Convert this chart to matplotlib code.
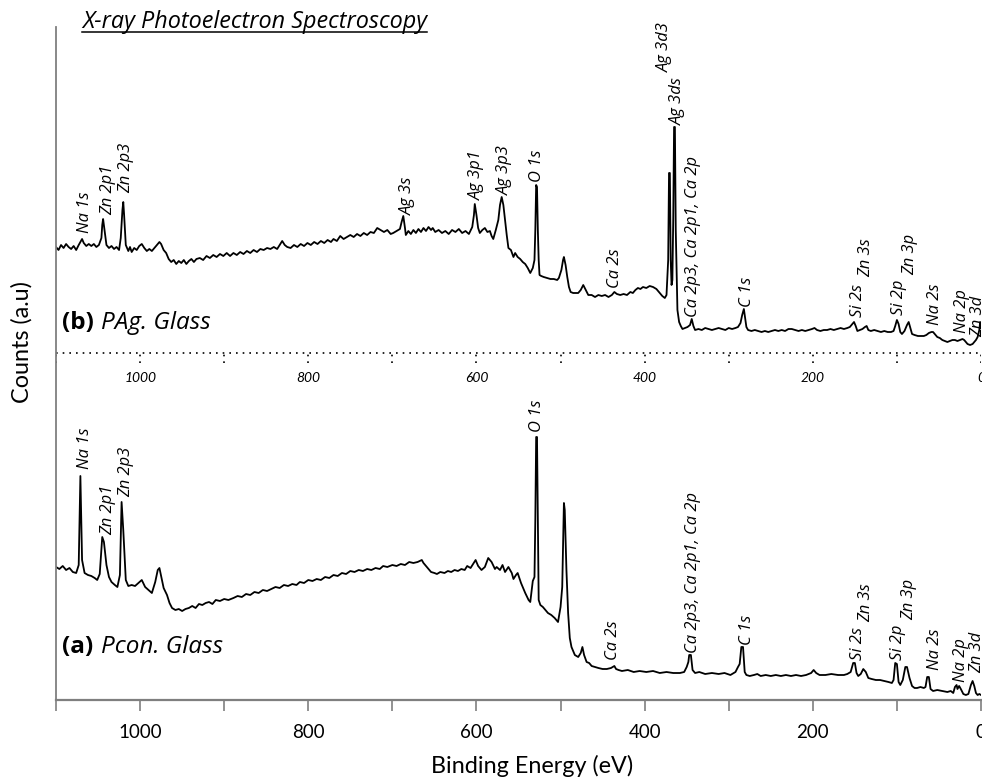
import matplotlib
matplotlib.use("Agg")
import matplotlib.pyplot as plt
from matplotlib.lines import Line2D

plt.rcParams['font.family'] = ['Lato', 'DejaVu Sans']
LABEL_FONT = ['Open Sans', 'DejaVu Sans']

# Spectrum (a) Pcon. Glass : (binding energy eV, counts a.u.)
pcon_points = [
    (1100, 133), (1096, 131), (1092, 134), (1088, 130), (1084, 132), (1080, 128), (1076, 127),
    (1073, 135), (1071, 224), (1069, 140), (1066, 127), (1062, 125), (1058, 124), (1054, 122),
    (1051, 120), (1048, 126), (1045, 163), (1043, 158), (1040, 135), (1037, 123), (1034, 118),
    (1030, 115), (1027, 113), (1024, 125), (1022, 198), (1020, 170), (1017, 120), (1014, 114),
    (1010, 115), (1006, 114), (1002, 117), (998, 120), (994, 113), (990, 110), (986, 107),
    (982, 118), (979, 130), (977, 132), (975, 124), (972, 112), (968, 105), (965, 97), (962, 92),
    (958, 90), (954, 91), (950, 89), (946, 91), (942, 92), (938, 94), (934, 92), (930, 96),
    (926, 95), (922, 97), (918, 98), (914, 96), (910, 100), (905, 99), (900, 101), (895, 100),
    (889, 102), (884, 104), (879, 103), (874, 106), (869, 105), (864, 108), (859, 107),
    (854, 110), (849, 109), (844, 111), (839, 113), (834, 112), (829, 115), (824, 114),
    (819, 116), (814, 115), (810, 118), (805, 117), (800, 120), (795, 119), (790, 121),
    (785, 120), (780, 123), (775, 122), (770, 125), (765, 124), (760, 127), (755, 126),
    (750, 129), (745, 128), (740, 130), (735, 129), (730, 131), (725, 130), (720, 132),
    (715, 131), (711, 134), (706, 133), (700, 135), (695, 134), (690, 136), (685, 135),
    (680, 138), (675, 137), (670, 138), (665, 140), (663, 137), (658, 132), (654, 128),
    (650, 127), (647, 126), (643, 128), (638, 127), (634, 129), (630, 128), (626, 130),
    (622, 129), (618, 131), (614, 130), (611, 134), (607, 132), (604, 136), (601, 140),
    (598, 134), (594, 130), (590, 133), (586, 142), (582, 138), (578, 131), (576, 133),
    (572, 130), (569, 135), (566, 128), (562, 133), (558, 127), (556, 121), (553, 125),
    (551, 127), (547, 117), (542, 107), (538, 100), (536, 98), (533, 119), (531, 123),
    (530, 180), (529, 263), (528, 263), (527, 180), (526, 100), (524, 95), (521, 93),
    (518, 90), (515, 87), (511, 85), (507, 82), (503, 78), (500, 93), (498, 113), (496, 197),
    (495, 190), (493, 130), (491, 87), (489, 62), (487, 53), (483, 45), (479, 43), (476, 47),
    (474, 53), (472, 45), (469, 38), (466, 37), (463, 34), (459, 33), (455, 32), (450, 31),
    (445, 31), (440, 32), (436, 34), (434, 31), (431, 30), (427, 29), (420, 30), (413, 28),
    (406, 29), (398, 28), (390, 29), (382, 27), (374, 28), (366, 27), (358, 27), (353, 28),
    (350, 33), (348, 38), (347, 45), (345, 45), (343, 30), (340, 27), (335, 28), (328, 26),
    (320, 27), (312, 26), (305, 27), (298, 25), (292, 28), (289, 33), (287, 36), (285, 53),
    (283, 53), (281, 28), (279, 25), (275, 24), (270, 25), (266, 26), (262, 24), (256, 25),
    (250, 24), (244, 25), (238, 24), (232, 25), (226, 24), (220, 25), (214, 24), (208, 25),
    (202, 27), (199, 30), (196, 27), (192, 25), (185, 25), (178, 26), (170, 25), (163, 25),
    (159, 26), (155, 28), (152, 37), (150, 37), (148, 27), (146, 24), (143, 26), (140, 31),
    (137, 28), (134, 22), (130, 21), (125, 20), (120, 20), (115, 19), (110, 18), (106, 17),
    (104, 20), (102, 37), (100, 36), (98, 18), (96, 15), (93, 20), (90, 33), (88, 33),
    (85, 22), (82, 14), (79, 12), (76, 12), (72, 13), (68, 12), (66, 13), (64, 23), (62, 23),
    (60, 11), (57, 9), (52, 10), (46, 9), (40, 8), (36, 9), (33, 7), (31, 13), (29, 15),
    (28, 11), (26, 14), (24, 11), (21, 6), (18, 5), (15, 6), (12, 15), (10, 19), (8, 14),
    (6, 7), (4, 5), (2, 6), (0, 5),
]

# Spectrum (b) PAg. Glass (already offset upwards in the original)
pag_points = [
    (1100, 453), (1097, 450), (1094, 455), (1091, 452), (1088, 456), (1085, 453), (1082, 451),
    (1079, 454), (1076, 450), (1073, 455), (1071, 458), (1069, 461), (1067, 457), (1064, 454),
    (1061, 456), (1058, 454), (1055, 456), (1052, 453), (1049, 455), (1046, 462), (1045, 475),
    (1044, 481), (1042, 468), (1040, 455), (1037, 452), (1034, 454), (1031, 451), (1028, 453),
    (1025, 450), (1023, 462), (1021, 490), (1020, 498), (1019, 485), (1017, 455), (1014, 449),
    (1012, 453), (1010, 448), (1007, 452), (1004, 450), (1001, 454), (998, 456), (995, 452),
    (992, 449), (989, 451), (986, 449), (983, 452), (980, 455), (977, 458), (975, 456),
    (972, 450), (969, 447), (966, 441), (963, 438), (960, 440), (957, 436), (954, 439),
    (951, 437), (948, 440), (945, 436), (942, 439), (939, 441), (936, 438), (933, 441),
    (929, 442), (925, 440), (921, 444), (917, 442), (913, 445), (909, 443), (905, 446),
    (901, 444), (897, 447), (893, 444), (889, 447), (885, 445), (881, 448), (877, 446),
    (873, 449), (869, 447), (865, 450), (861, 448), (857, 451), (853, 450), (849, 452),
    (845, 451), (841, 453), (837, 451), (834, 455), (831, 459), (828, 455), (825, 453),
    (821, 452), (817, 455), (813, 453), (809, 456), (805, 454), (801, 457), (797, 455),
    (793, 458), (789, 456), (785, 459), (781, 457), (777, 460), (773, 458), (770, 461),
    (766, 459), (762, 464), (758, 461), (754, 463), (750, 465), (746, 463), (742, 466),
    (738, 464), (734, 467), (730, 465), (726, 468), (722, 467), (718, 472), (714, 470),
    (710, 468), (706, 470), (702, 466), (699, 467), (695, 469), (691, 471), (689, 478),
    (687, 484), (685, 472), (684, 465), (681, 469), (678, 466), (675, 470), (672, 467),
    (669, 471), (666, 468), (663, 472), (660, 469), (657, 473), (654, 470), (652, 472),
    (649, 468), (645, 470), (641, 467), (637, 469), (633, 466), (629, 470), (625, 468),
    (621, 471), (617, 467), (613, 469), (609, 466), (605, 473), (603, 485), (602, 496),
    (600, 485), (598, 472), (596, 467), (593, 470), (590, 472), (587, 468), (584, 469),
    (582, 464), (580, 461), (577, 470), (574, 480), (572, 495), (570, 503), (568, 495),
    (566, 480), (564, 465), (562, 452), (559, 450), (556, 443), (554, 447), (551, 443),
    (548, 441), (545, 438), (542, 436), (539, 432), (536, 427), (533, 432), (531, 440),
    (530, 470), (529, 515), (528, 513), (527, 470), (526, 440), (525, 425), (523, 424),
    (520, 423), (516, 422), (512, 421), (508, 421), (504, 420), (502, 422), (499, 430),
    (497, 440), (496, 443), (494, 435), (492, 423), (490, 413), (488, 408), (485, 407),
    (482, 407), (479, 407), (476, 410), (473, 415), (470, 410), (467, 405), (463, 405),
    (459, 403), (455, 405), (451, 404), (447, 405), (443, 403), (439, 405), (436, 408),
    (433, 406), (429, 405), (425, 406), (421, 405), (417, 408), (414, 407), (411, 410),
    (408, 412), (405, 411), (402, 413), (398, 412), (394, 414), (390, 413), (386, 411),
    (382, 407), (379, 404), (376, 402), (374, 405), (372, 440), (371, 527), (370, 527),
    (369, 440), (368, 415), (367, 420), (366, 480), (365, 573), (364, 573), (363, 470),
    (361, 390), (359, 378), (357, 374), (355, 371), (352, 372), (349, 373), (346, 375),
    (344, 381), (342, 374), (340, 370), (336, 371), (332, 370), (328, 372), (324, 371),
    (320, 370), (316, 371), (312, 372), (308, 371), (304, 370), (300, 372), (296, 371),
    (292, 372), (289, 373), (286, 377), (284, 385), (282, 391), (281, 385), (279, 373),
    (277, 370), (273, 369), (269, 370), (265, 369), (261, 368), (257, 369), (253, 368),
    (249, 369), (245, 370), (241, 369), (237, 370), (233, 369), (229, 371), (225, 371),
    (221, 370), (217, 369), (213, 370), (209, 369), (205, 370), (201, 371), (198, 372),
    (195, 370), (191, 369), (187, 370), (183, 370), (179, 371), (175, 370), (171, 371),
    (167, 372), (163, 371), (159, 372), (156, 373), (153, 376), (151, 378), (149, 374),
    (147, 369), (144, 370), (141, 371), (138, 373), (136, 374), (134, 370), (131, 369),
    (127, 370), (123, 369), (119, 368), (115, 369), (111, 368), (107, 368), (104, 369),
    (102, 374), (100, 380), (98, 376), (96, 368), (94, 366), (91, 369), (88, 375), (86, 378),
    (84, 372), (82, 366), (79, 365), (75, 364), (71, 364), (68, 364), (65, 365), (62, 367),
    (59, 368), (57, 368), (55, 366), (52, 363), (49, 362), (46, 360), (43, 359), (40, 358),
    (37, 359), (34, 360), (31, 360), (28, 359), (25, 360), (22, 361), (20, 360), (18, 358),
    (16, 356), (13, 355), (10, 356), (8, 358), (6, 360), (4, 363), (2, 370), (1, 378), (0, 372),
]

# peak labels
pag_labels = ["Na 1s", "Zn 2p1", "Zn 2p3", "Ag 3s", "Ag 3p1", "Ag 3p3", "O 1s", "Ca 2s",
              "Ag 3d3", "Ag 3ds", "Ca 2p3, Ca 2p1, Ca 2p", "C 1s", "Si 2s", "Zn 3s",
              "Si 2p", "Zn 3p", "Na 2s", "Na 2p", "Zn 3d"]
pag_label_ev = [1065, 1038, 1017, 682, 600, 566, 528, 435, 376, 361, 342, 278, 146, 137,
                97, 84, 55, 23, 3]
pag_label_y = [467, 485, 507, 485, 500, 505, 518, 412, 628, 575, 383, 393, 383, 423,
               385, 425, 375, 367, 363]

pcon_labels = ["Na 1s", "Zn 2p1", "Zn 2p3", "O 1s", "Ca 2s", "Ca 2p3, Ca 2p1, Ca 2p",
               "C 1s", "Si 2s", "Zn 3s", "Si 2p", "Zn 3p", "Na 2s", "Na 2p", "Zn 3d"]
pcon_label_ev = [1065, 1038, 1017, 528, 438, 342, 278, 146, 137, 99, 86, 55, 24, 4]
pcon_label_y = [231, 165, 203, 268, 40, 47, 55, 40, 78, 40, 80, 30, 18, 27]

major_ticks = [1000, 800, 600, 400, 200, 0]
minor_ticks = [1100, 900, 700, 500, 300, 100]
separator_level = 347

fig = plt.figure(figsize=(9.82, 7.79), dpi=100)
ax = fig.add_axes([56 / 982, 79 / 779, 925 / 982, 673 / 779])

pcon_ev, pcon_counts = zip(*pcon_points)
pag_ev, pag_counts = zip(*pag_points)
ax.plot(pcon_ev, pcon_counts, color='black', lw=1.3)
ax.plot(pag_ev, pag_counts, color='black', lw=1.3)

ax.set_xlim(1100, 0)
ax.set_ylim(0, 673)

for name, ev, y in zip(pag_labels, pag_label_ev, pag_label_y):
    ax.text(ev, y, name, rotation=90, ha='center', va='bottom', fontsize=11.9,
            style='italic', family=LABEL_FONT, clip_on=False)
for name, ev, y in zip(pcon_labels, pcon_label_ev, pcon_label_y):
    ax.text(ev, y, name, rotation=90, ha='center', va='bottom', fontsize=11.9,
            style='italic', family=LABEL_FONT, clip_on=False)

# dotted baseline + italic axis for the upper spectrum
ax.axhline(separator_level, color='black', lw=1.2, ls=(0, (1, 3)))
ax.vlines(major_ticks + minor_ticks, separator_level - 10, separator_level,
          color='black', lw=1.2, ls=(0, (1, 3)))
for t in major_ticks:
    ax.text(t, separator_level - 25, str(t), ha='center', va='center',
            fontsize=10, style='italic', clip_on=False)

# sample names
ax.text(1093, 377, "(b)", fontsize=17.5, fontweight='bold', va='center', family=LABEL_FONT)
ax.text(1047, 377, "PAg. Glass", fontsize=17.5, style='italic', va='center', family=LABEL_FONT)
ax.text(1093, 53, "(a)", fontsize=17.5, fontweight='bold', va='center', family=LABEL_FONT)
ax.text(1047, 53, "Pcon. Glass", fontsize=17.5, style='italic', va='center', family=LABEL_FONT)

ax.set_xticks(major_ticks)
ax.set_xticks(minor_ticks, minor=True)
ax.tick_params(axis='x', which='both', direction='out', length=8, width=1.2,
               color='#7f7f7f', labelsize=13.5, pad=9)
ax.set_yticks([])
for side in ['top', 'right']:
    ax.spines[side].set_visible(False)
ax.spines['left'].set_color('#7f7f7f')
ax.spines['left'].set_linewidth(1.3)
ax.spines['bottom'].set_color('#7f7f7f')
ax.spines['bottom'].set_linewidth(1.6)

ax.set_xlabel('Binding Energy (eV)', fontsize=16.8)
ax.xaxis.set_label_coords((532 - 56) / 925, -(766 - 700) / 673)
ax.xaxis.label.set_va('center')
ax.set_ylabel('Counts (a.u)', fontsize=16.8)
ax.yaxis.set_label_coords(-(56 - 22) / 925, (700 - 342) / 673)
ax.yaxis.label.set_va('center')

# underlined title
title = fig.text(82 / 982, 1 - 22 / 779, 'X-ray Photoelectron Spectroscopy',
                 fontsize=16.8, style='italic', va='center', ha='left', family=LABEL_FONT)
fig.canvas.draw()
bb = title.get_window_extent().transformed(fig.transFigure.inverted())
fig.add_artist(Line2D([bb.x0, bb.x1], [bb.y0 + 0.002, bb.y0 + 0.002],
                      transform=fig.transFigure, color='black', lw=1.1))

fig.savefig('out.png', dpi=100)
